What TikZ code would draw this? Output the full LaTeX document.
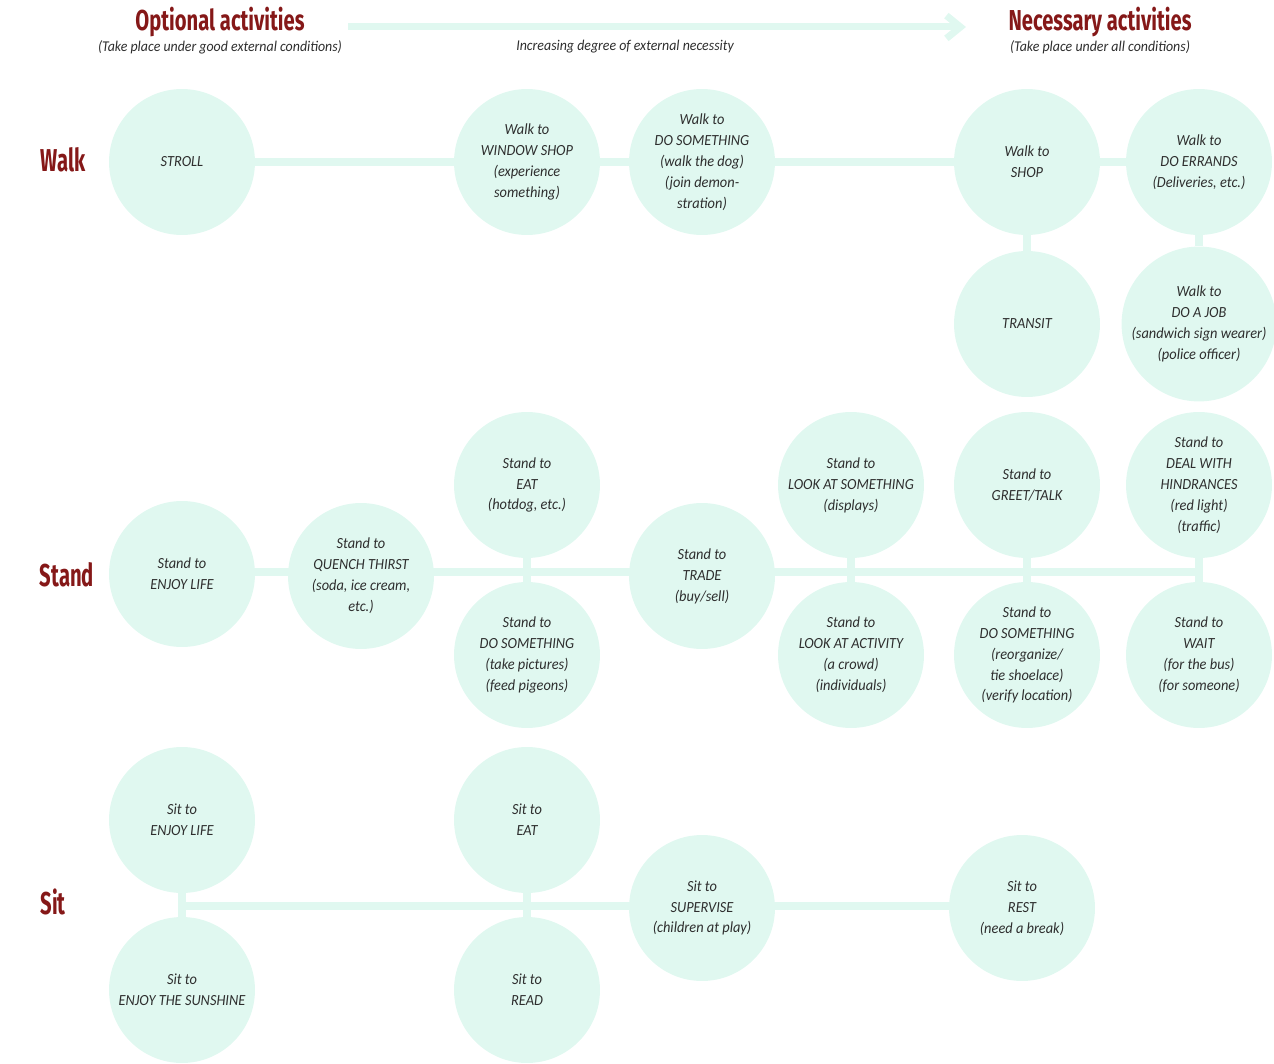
\documentclass[tikz,border=0pt]{standalone}
\usepackage{fontspec}
\usepackage{tikz}
\usetikzlibrary{arrows.meta, positioning}
\setmainfont{Carlito}[FakeStretch=0.93]
\newfontfamily\headfont[FakeStretch=0.7]{Fira Sans}
\newfontfamily\rowfont[FakeStretch=0.64]{Fira Sans}
\definecolor{mint}{HTML}{E0F8F0}
\definecolor{maroon}{HTML}{851818}
\definecolor{ink}{HTML}{2E2E2E}
\pgfdeclarelayer{bg}
\pgfsetlayers{bg,main}

\begin{document}
\begin{tikzpicture}[x=0.02cm, y=-0.02cm, >=Latex]
  \tikzstyle{act}=[circle, minimum size=2.92cm, inner sep=0pt, fill=mint,
                   align=center, font=\fontsize{8.8}{11.9}\selectfont\itshape\color{ink}]
  \tikzstyle{lnk}=[line width=0.16cm, color=mint]
  \tikzstyle{head}=[inner sep=0pt, font=\headfont\bfseries\fontsize{16.4}{18}\selectfont\color{maroon}]
  \tikzstyle{rowlbl}=[inner sep=0pt, font=\rowfont\bfseries\fontsize{18}{20}\selectfont\color{maroon}]
  \tikzstyle{sub}=[inner sep=0pt, font=\fontsize{8.5}{10}\selectfont\itshape\color{ink}]
  \useasboundingbox (0,0) rectangle (1274,1064);

  % header
  \node[head](opt) at (220,22){Optional activities};
  \node[head](nec) at (1100,22){Necessary activities};
  \node[sub](optsub) at (220,47){(Take place under good external conditions)};
  \node[sub](necsub) at (1100,47){(Take place under all conditions)};
  \node[sub](degree) at (625,47){Increasing degree of external necessity};
  \coordinate (arrS) at (348,27);
  \coordinate (arrE) at (966,27);
  \draw[line width=0.14cm, color=mint, -{Straight Barb[length=8pt, width=13pt]}](arrS)--(arrE);

  % row labels
  \node[rowlbl](walk) at (63,160){Walk};
  \node[rowlbl](stand) at (67,575){Stand};
  \node[rowlbl](sit) at (53,902){Sit};

  % walk
  \node[act](stroll) at (182,162){STROLL};
  \node[act](window) at (527,162){Walk to\\WINDOW SHOP\\(experience\\something)};
  \node[act](wdo) at (702,162){Walk to\\DO SOMETHING\\(walk the dog)\\(join demon-\\stration)};
  \node[act](shop) at (1027,162){Walk to\\SHOP};
  \node[act](errands) at (1199,162){Walk to\\DO ERRANDS\\(Deliveries, etc.)};
  \node[act](transit) at (1027,324){TRANSIT};
  \node[act](job) at (1199,324){Walk to\\DO A JOB\\(sandwich sign wearer)\\(police officer)};

  % stand
  \node[act](senjoy) at (182,574){Stand to\\ENJOY LIFE};
  \node[act](thirst) at (361,576){Stand to\\QUENCH THIRST\\(soda, ice cream,\\etc.)};
  \node[act](seat) at (527,485){Stand to\\EAT\\(hotdog, etc.)};
  \node[act](sdo) at (527,655){Stand to\\DO SOMETHING\\(take pictures)\\(feed pigeons)};
  \node[act](trade) at (702,576){Stand to\\TRADE\\(buy/sell)};
  \node[act](look) at (851,485){Stand to\\LOOK AT SOMETHING\\(displays)};
  \node[act](activity) at (851,655){Stand to\\LOOK AT ACTIVITY\\(a crowd)\\(individuals)};
  \node[act](greet) at (1027,485){Stand to\\GREET/TALK};
  \node[act](sdo2) at (1027,655){Stand to\\DO SOMETHING\\(reorganize/\\tie shoelace)\\(verify location)};
  \node[act](hind) at (1199,485){Stand to\\DEAL WITH\\HINDRANCES\\(red light)\\(traffic)};
  \node[act](wait) at (1199,655){Stand to\\WAIT\\(for the bus)\\(for someone)};
  \coordinate (standJ) at (182,572);

  % sit
  \node[act](tenjoy) at (182,820){Sit to\\ENJOY LIFE};
  \node[act](sun) at (182,990){Sit to\\ENJOY THE SUNSHINE};
  \node[act](teat) at (527,820){Sit to\\EAT};
  \node[act](read) at (527,990){Sit to\\READ};
  \node[act](supervise) at (702,908){Sit to\\SUPERVISE\\(children at play)};
  \node[act](rest) at (1022,908){Sit to\\REST\\(need a break)};
  \coordinate (sitJ) at (182,906);

  \begin{pgfonlayer}{bg}
    \draw[lnk](stroll)--(errands);
    \draw[lnk](shop)--(transit);
    \draw[lnk](errands)--(job);
    \draw[lnk](standJ)--(standJ -| hind);
    \draw[lnk](seat)--(sdo);
    \draw[lnk](look)--(activity);
    \draw[lnk](greet)--(sdo2);
    \draw[lnk](hind)--(wait);
    \draw[lnk](tenjoy)--(sun);
    \draw[lnk](teat)--(read);
    \draw[lnk](sitJ)--(sitJ -| rest);
  \end{pgfonlayer}
\end{tikzpicture}
\end{document}
